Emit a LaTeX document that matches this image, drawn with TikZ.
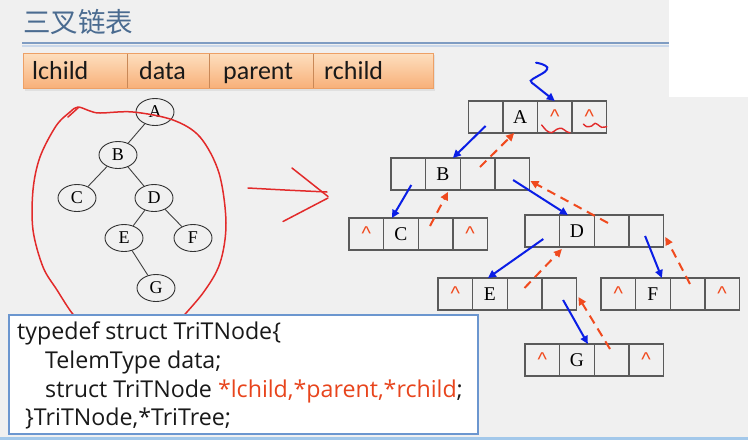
\documentclass[tikz,border=0pt]{standalone}
\usepackage{fontspec}
\setmainfont{Liberation Serif}
\newfontfamily\hdrfont{Carlito}
\newfontfamily\codefont{Open Sans}
\newfontfamily\cjkfont{Noto Sans CJK SC}
\newfontfamily\symfont{Liberation Sans}
\usetikzlibrary{calc,arrows.meta,shapes.geometric}

\definecolor{slidebg}{HTML}{F0F0F0}
\definecolor{titleblue}{HTML}{4A6B90}
\definecolor{ruledark}{HTML}{7F9CC2}
\definecolor{rulelight}{HTML}{C9D7EA}
\definecolor{penblue}{HTML}{0A1EE6}
\definecolor{penred}{HTML}{F04A1E}
\definecolor{inkred}{HTML}{E22A2A}
\definecolor{codered}{HTML}{E8441C}
\definecolor{boxblue}{HTML}{6B96CF}
\definecolor{bandblue}{HTML}{A3C8EA}
\definecolor{cellgray}{HTML}{5A5A5A}
\definecolor{barlight}{HTML}{FDDFBF}
\definecolor{bardark}{HTML}{F8B079}
\definecolor{baredge}{HTML}{EDA066}

% null pointer mark
\newcommand\nullmark{{\symfont\fontsize{20}{20}\selectfont\color{penred}\textasciicircum}}

% one tri-linked node: four cells lchild | data | parent | rchild
\newcommand\trinode[7]{%
  \node[cell] (#11) at ({#2+17.3},#3) {#4};
  \node[cell, anchor=west] (#12) at (#11.east) {#5};
  \node[cell, anchor=west] (#13) at (#12.east) {#6};
  \node[cell, anchor=west] (#14) at (#13.east) {#7};
}

\tikzset{
  cell/.style={draw=cellgray, line width=1.4pt, minimum width=34.6pt,
    minimum height=32pt, inner sep=0pt, outer sep=0pt,
    font=\fontsize{19.5}{19.5}\selectfont},
  treenode/.style={ellipse, draw=black!80, line width=0.9pt,
    minimum width=38pt, minimum height=27pt, inner sep=0pt,
    font=\fontsize{18}{18}\selectfont},
  treeedge/.style={draw=black!75, line width=0.9pt},
  childptr/.style={draw=penblue, line width=2pt,
    -{Triangle[length=8pt,width=7.5pt]}},
  parentptr/.style={draw=penred, line width=2pt, dash pattern=on 9pt off 6pt,
    -{Triangle[length=8pt,width=7.5pt]}},
  pen/.style={draw=inkred, line width=1.5pt, line cap=round, line join=round},
  hdr/.style={anchor=base west, inner sep=0pt, text=black!90,
    font=\hdrfont\fontsize{26}{26}\selectfont},
  codeline/.style={anchor=base west, inner sep=0pt, text=black!90,
    font=\codefont\fontsize{23.2}{23.2}\selectfont},
}

\begin{document}
\begin{tikzpicture}[x=1pt, y=-1pt]
\useasboundingbox (0,0) rectangle (748,440);
\fill[slidebg] (0,0) rectangle (748,440);
\fill[white] (669,0) rectangle (748,97);
\fill[bandblue] (0,437) rectangle (748,440);

% title and rules
\node[anchor=base west, inner sep=0pt, text=titleblue,
  font=\cjkfont\fontsize{27.5}{27.5}\selectfont] (title) at (23,32) {三叉链表};
\draw[ruledark, line width=1.8pt] (22,42.6) -- (669,42.6);
\draw[rulelight, line width=1.5pt] (22,45.8) -- (669,45.8);

% field header bar
\fill[black!12] (25,55) rectangle (435,91);
\shade[top color=barlight, bottom color=bardark, draw=baredge, line width=0.8pt]
  (23,53) rectangle (433,88);
\foreach \dx in {127,209,313}
  \draw[baredge!85!black, line width=0.6pt] (\dx,53.5) -- (\dx,87.5);
\node[hdr] (hl) at (32,79) {lchild};
\node[hdr] (hd) at (139,79) {data};
\node[hdr] (hp) at (223,79) {parent};
\node[hdr] (hr) at (324,79) {rchild};

% binary tree
\node[treenode] (tA) at (155,112) {A};
\node[treenode] (tB) at (118,155) {B};
\node[treenode] (tC) at (77,198) {C};
\node[treenode] (tD) at (154,198) {D};
\node[treenode] (tE) at (124,238) {E};
\node[treenode] (tF) at (193,238) {F};
\node[treenode] (tG) at (156,288) {G};
\draw[treeedge] (tA) -- (tB);
\draw[treeedge] (tB) -- (tC);
\draw[treeedge] (tB) -- (tD);
\draw[treeedge] (tD) -- (tE);
\draw[treeedge] (tD) -- (tF);
\draw[treeedge] (tE) -- (tG);

% hand-drawn loop around the tree
\draw[pen] plot[smooth, tension=0.55] coordinates {
  (84,324) (72,313) (57,290) (43,267) (33,230) (33,190) (40,157)
  (56,126) (70,112) (78,107) (90,111) (100,113) (133,112) (173,120)
  (200,137) (219,173) (226,223) (220,263) (203,293) (176,324)};
\draw[pen] (68,117) -- (78,108);

% hand-drawn arrow
\draw[pen] plot[smooth] coordinates {(248,188) (285,190) (327,192)};
\draw[pen] (292,168) -- (328,196.5);
\draw[pen] (328,198) -- (283,221.5);

% tri-linked storage
\trinode{A}{468.3}{117}{}{A}{\nullmark}{\nullmark}
\trinode{B}{391}{174}{}{B}{}{}
\trinode{C}{349}{234}{\nullmark}{C}{}{\nullmark}
\trinode{D}{525}{231}{}{D}{}{}
\trinode{E}{438}{294}{\nullmark}{E}{}{}
\trinode{F}{601}{294}{\nullmark}{F}{}{\nullmark}
\trinode{G}{525}{360}{\nullmark}{G}{}{\nullmark}

% squiggles under the root's null fields
\draw[pen, line width=1.4pt] plot[smooth] coordinates {
  (541.7,125) (546.7,130.7) (551.7,132.7) (556.7,129.3) (561.7,128.3)
  (566.7,131.7) (570,132.7)};
\draw[pen, line width=1.4pt] plot[smooth] coordinates {
  (583.3,124) (586.7,126.7) (591.7,126) (595,123.3) (598.3,125)
  (601.7,127.3) (606.7,126.7)};

% root pointer
\coordinate (root) at (536,62.7);
\draw[draw=penblue, line width=2pt, line cap=round] plot[smooth, tension=0.6]
  coordinates {(root) (541.7,64) (547.3,67.3) (545,71.7) (536.7,76.7) (530.7,80.7) (533.5,84)};
\draw[childptr] (533.5,84) -- (A3.north);

% child pointers
\draw[childptr] ($(A1.center)+(0,9)$) -- ($(B2.north)+(10,0)$);
\draw[childptr] ($(B1.center)+(3,11)$) -- ($(C2.north)+(-9,0)$);
\draw[childptr] ($(B4.center)+(1,6)$) -- ($(D2.north)+(-9,0)$);
\draw[childptr] ($(D1.center)+(1,8)$) -- ($(E2.north)+(-2,0)$);
\draw[childptr] ($(D4.center)+(-1,5)$) -- ($(F2.north)+(9,0)$);
\draw[childptr] ($(E4.center)+(4,6)$) -- ($(G2.north)+(11,0)$);

% parent pointers
\draw[parentptr] ($(B3.center)+(2.5,-7)$) -- ($(A2.south)+(-6,0)$);
\draw[parentptr] ($(C3.center)+(-5.5,-8)$) -- ($(B2.south)+(5,2)$);
\draw[parentptr] ($(D3.center)+(-3.5,-8)$) -- ($(B4.east)+(1,7)$);
\draw[parentptr] ($(E3.center)+(0,-6)$) -- ($(D2.south)+(-15,2)$);
\draw[parentptr] ($(F3.center)+(2.5,-10)$) -- ($(D4.east)+(2,6)$);
\draw[parentptr] ($(G3.center)+(-1.5,-11)$) -- ($(E4.east)+(2,3)$);

% structure declaration
\node[draw=boxblue, fill=white, line width=1.6pt, minimum width=469pt,
  minimum height=119pt, inner sep=0pt, anchor=north west] (code) at (8,314) {};
\node[codeline] (c1) at (17,339) {typedef struct TriTNode\{};
\node[codeline] (c2) at (45,368) {TelemType data;};
\node[codeline] (c3) at (45,397) {struct TriTNode {\color{codered}*lchild,*parent,*rchild};};
\node[codeline] (c4) at (25,425) {\}TriTNode,*TriTree;};
\end{tikzpicture}
\end{document}
